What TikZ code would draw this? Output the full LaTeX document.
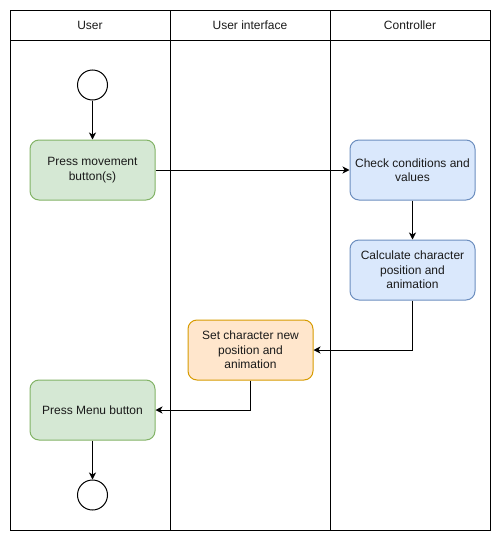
\documentclass[tikz,border=0pt]{standalone}
\usepackage{fontspec}
\setmainfont{Liberation Sans}
\usetikzlibrary{arrows.meta}
\definecolor{gfill}{HTML}{D5E8D4}\definecolor{gdraw}{HTML}{82B366}
\definecolor{bfill}{HTML}{DAE8FC}\definecolor{bdraw}{HTML}{6C8EBF}
\definecolor{ofill}{HTML}{FFE6CC}\definecolor{odraw}{HTML}{D79B00}
\definecolor{txt}{HTML}{1A1A1A}
\begin{document}
\begin{tikzpicture}[x=1pt,y=-1pt,
  lane/.style={draw=black,line width=1pt},
  act/.style={rounded corners=9pt,line width=1pt,minimum width=125pt,minimum height=60pt,
    align=center,inner sep=2pt,text=txt,font=\fontsize{12}{14.5}\selectfont},
  green/.style={act,fill=gfill,draw=gdraw},
  blue/.style={act,fill=bfill,draw=bdraw},
  orange/.style={act,fill=ofill,draw=odraw},
  term/.style={circle,draw=black,line width=1pt,minimum size=30pt,inner sep=0pt,fill=white},
  hdr/.style={font=\fontsize{12}{14.5}\selectfont,text=txt},
  flow/.style={draw=black,line width=1pt,-{Stealth[length=7pt,width=7pt,inset=2pt]}}]
\useasboundingbox (0,0) rectangle (502,541);
% lanes
\draw[lane] (10,10) rectangle (490,530);
\draw[lane] (10,40) -- (490,40);
\draw[lane] (170,10) -- (170,530);
\draw[lane] (330,10) -- (330,530);
\node[hdr] (h1) at (90,25) {User};
\node[hdr] (h2) at (250,25) {User interface};
\node[hdr] (h3) at (410,25) {Controller};
% nodes
\node[term] (start) at (92.5,85) {};
\node[green] (pm) at (92.5,170) {Press movement\\button(s)};
\node[blue] (cc) at (412.5,170) {Check conditions and\\values};
\node[blue] (cp) at (412.5,270) {Calculate character\\position and\\animation};
\node[orange] (sc) at (250.5,350) {Set character new\\position and\\animation};
\node[green] (mb) at (92.5,410) {Press Menu button};
\node[term] (end) at (92.5,495) {};
% flows
\draw[flow] (start) -- (pm);
\draw[flow] (pm) -- (cc);
\draw[flow] (cc) -- (cp);
\draw[flow] (cp.south) |- (sc.east);
\draw[flow] (sc.south) |- (mb.east);
\draw[flow] (mb) -- (end);
\end{tikzpicture}
\end{document}
